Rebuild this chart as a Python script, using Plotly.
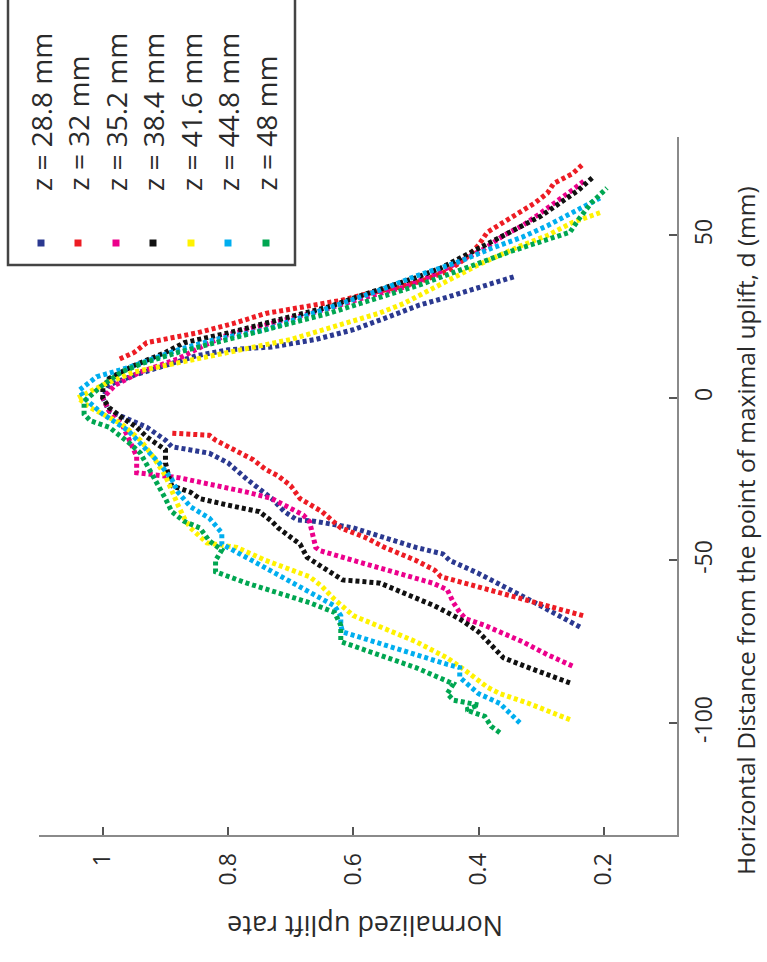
import plotly.graph_objects as go

W, H = 767, 962
L, R, T, B = 39, 677, 137, 835  # plot area pixel edges

def px(x):
    return (x - L) / (R - L)

def py(y):
    return (B - y) / (B - T)

series_names = ["z = 28.8 mm", "z = 32 mm", "z = 35.2 mm", "z = 38.4 mm",
                "z = 41.6 mm", "z = 44.8 mm", "z = 48 mm"]
series_colors = ["#2b3990", "#ed1c24", "#ec008c", "#111111",
                 "#fff200", "#00aeef", "#00a651"]

d_288 = [-70.5, -66, -62, -58, -54, -50, -48, -46, -43, -40, -38, -37.5, -35, -31, -28, -25, -20, -17, -16, -15, -13, -9, -4, 0, 4, 7, 10, 13, 14.8, 15.7, 18, 21, 24.5, 28.6, 31, 34.8, 37.5]
r_288 = [0.238, 0.28, 0.32, 0.36, 0.40, 0.446, 0.457, 0.5, 0.55, 0.6, 0.66, 0.69, 0.71, 0.73, 0.75, 0.77, 0.8, 0.83, 0.86, 0.89, 0.9, 0.93, 0.99, 1.0, 0.99, 0.95, 0.9, 0.85, 0.8, 0.73, 0.66, 0.6, 0.55, 0.494, 0.45, 0.386, 0.34]

d_32 = [-67, -64, -61, -58, -55, -53, -50, -46, -43, -40, -35, -31, -27, -24, -22, -19, -16, -13, -11.5, -11, -10.8, None, 12, 14, 17, 18, 20, 23, 26, 28, 30, 32, 34, 36, 39, 43, 47, 51, 54, 57, 60, 63, 66, 69, 72]
r_32 = [0.233, 0.29, 0.35, 0.4, 0.46, 0.47, 0.5, 0.55, 0.58, 0.62, 0.65, 0.685, 0.70, 0.72, 0.74, 0.76, 0.79, 0.82, 0.83, 0.86, 0.893, None, 0.973, 0.95, 0.93, 0.9, 0.85, 0.79, 0.74, 0.68, 0.62, 0.58, 0.53, 0.49, 0.45, 0.42, 0.40, 0.386, 0.36, 0.334, 0.31, 0.29, 0.28, 0.25, 0.233]

d_352 = [-82.5, -79, -75, -72, -70, -68, -66, -63, -59, -57, -55, -53, -50, -47, -46, -42, -38, -36, -33, -31, -29, -27, -24.6, -23, -20, -18, -12, -8, -4, 0, 4, 8, 12, 16, 19.5, 23, 27, 31, 34, 38, 42, 46, 50, 53, 57, 61, 64, 67]
r_352 = [0.25, 0.29, 0.33, 0.366, 0.39, 0.42, 0.43, 0.44, 0.45, 0.473, 0.51, 0.55, 0.6, 0.653, 0.66, 0.665, 0.67, 0.68, 0.71, 0.73, 0.77, 0.82, 0.877, 0.946, 0.946, 0.946, 0.96, 0.97, 0.99, 1.0, 0.98, 0.94, 0.88, 0.84, 0.8, 0.73, 0.65, 0.58, 0.52, 0.47, 0.43, 0.39, 0.36, 0.33, 0.3, 0.27, 0.25, 0.23]

d_384 = [-87.7, -86, -83, -80, -76, -72, -68, -64, -60, -57, -56.5, -56, -52, -49, -45, -43, -40, -38, -35, -33, -31, -29, -27, -24, -20, -16, -12, -9, -6, -3, 0, 3, 6, 10, 14, 17, 20, 24, 28, 32, 35, 37, 40, 44, 48, 52.6, 56, 60, 64, 68]
r_384 = [0.254, 0.28, 0.32, 0.36, 0.38, 0.40, 0.43, 0.47, 0.52, 0.557, 0.585, 0.617, 0.65, 0.674, 0.685, 0.70, 0.72, 0.73, 0.75, 0.8, 0.845, 0.86, 0.89, 0.895, 0.9, 0.9, 0.93, 0.946, 0.97, 0.99, 1.0, 1.0, 0.99, 0.95, 0.9, 0.87, 0.8, 0.72, 0.64, 0.58, 0.53, 0.5, 0.46, 0.42, 0.38, 0.335, 0.3, 0.27, 0.24, 0.217]

d_416 = [-99, -97, -94, -91, -89, -84, -80, -75, -71, -67, -62, -58, -55, -50, -46, -44.6, -40, -37, -33, -28, -24, -18, -13, -8, -3, 0, 4, 8, 12, 15, 18, 22, 26, 29, 31.7, 36, 41, 46.7, 50, 54, 57]
r_416 = [0.254, 0.28, 0.32, 0.366, 0.386, 0.42, 0.45, 0.5, 0.55, 0.6, 0.63, 0.65, 0.67, 0.74, 0.786, 0.834, 0.86, 0.87, 0.88, 0.89, 0.9, 0.92, 0.94, 0.97, 1.02, 1.04, 1.0, 0.95, 0.85, 0.77, 0.7, 0.63, 0.56, 0.52, 0.494, 0.45, 0.4, 0.334, 0.29, 0.25, 0.206]

d_448 = [-100, -97, -94, -91, -86, -83, -82, -79, -75, -72, -70, -67, -64, -60, -55, -50, -45, -41.5, -37, -33.5, -29, -25, -20, -14, -10, -5, 0, 2.5, 6.5, 9.5, 15, 18, 21, 25, 29, 33, 37.5, 42, 46, 49.5, 53, 57, 61.5]
r_448 = [0.334, 0.35, 0.366, 0.4, 0.43, 0.43, 0.45, 0.5, 0.57, 0.617, 0.62, 0.62, 0.63, 0.667, 0.715, 0.762, 0.81, 0.81, 0.83, 0.86, 0.88, 0.89, 0.91, 0.94, 0.96, 1.0, 1.03, 1.037, 1.01, 0.957, 0.877, 0.82, 0.74, 0.68, 0.62, 0.56, 0.5, 0.43, 0.38, 0.33, 0.29, 0.25, 0.206]

d_48 = [-103, -101, -98, -96, -94.5, -93, -91, -88, -83, -79, -75, -70, -66, -63, -60, -57, -53.5, -50, -46.8, -44, -40, -38, -35, -31, -24, -17, -14, -9, -7, -5, -1, 4, 8, 10.7, 14, 17, 20, 23, 26, 29, 32, 34.8, 40, 45, 51, 55, 60, 64.6]
r_48 = [0.366, 0.38, 0.39, 0.42, 0.40, 0.44, 0.45, 0.44, 0.5, 0.56, 0.62, 0.62, 0.63, 0.67, 0.72, 0.77, 0.82, 0.82, 0.81, 0.83, 0.845, 0.87, 0.89, 0.9, 0.92, 0.94, 0.957, 0.99, 1.02, 1.03, 1.03, 1.0, 0.97, 0.936, 0.88, 0.82, 0.76, 0.7, 0.64, 0.59, 0.54, 0.494, 0.42, 0.35, 0.254, 0.24, 0.22, 0.195]

series_d = [d_288, d_32, d_352, d_384, d_416, d_448, d_48]
series_r = [r_288, r_32, r_352, r_384, r_416, r_448, r_48]

rate_ticks = [1, 0.8, 0.6, 0.4, 0.2]
rate_ticktext = ["1", "0.8", "0.6", "0.4", "0.2"]
d_ticks = [-100, -50, 0, 50]
d_ticktext = ["-100", "-50", "0", "50"]

FONT = "Open Sans"
TXT = "#2a2a2a"

fig = go.Figure()
for name, col, dd, rr in zip(series_names, series_colors, series_d, series_r):
    fig.add_trace(go.Scatter(
        x=rr, y=dd, mode="lines", name=name, showlegend=False,
        line=dict(color=col, width=5, dash="4px,3px"),
    ))

ax_style = dict(showgrid=False, zeroline=False, showline=True, linecolor="#8a8a8a",
                linewidth=2, ticks="inside", ticklen=8, tickwidth=1.5, tickcolor="#555",
                tickfont=dict(family=FONT, size=23, color=TXT))

fig.update_layout(
    width=W, height=H,
    margin=dict(l=L, r=W - R, t=T, b=H - B, pad=0),
    paper_bgcolor="white", plot_bgcolor="white",
    xaxis=dict(range=[1.102, 0.083], tickvals=rate_ticks, ticktext=rate_ticktext,
               tickangle=-90, side="bottom", ticklabelstandoff=7, **ax_style),
    yaxis=dict(range=[-134.5, 80.3], tickvals=d_ticks, ticktext=d_ticktext,
               tickangle=-90, side="right", ticklabelstandoff=5, **ax_style),
)

# axis titles (figure is rotated 90 degrees counter-clockwise)
fig.add_annotation(text="Normalized uplift rate", xref="paper", yref="paper",
                   x=px(365), y=py(927), textangle=180, showarrow=False,
                   xanchor="center", yanchor="middle",
                   font=dict(family=FONT, size=27, color=TXT))
fig.add_annotation(text="Horizontal Distance from the point of maximal uplift, d (mm)",
                   xref="paper", yref="paper", x=px(745), y=py(530), textangle=-90,
                   showarrow=False, xanchor="center", yanchor="middle",
                   font=dict(family=FONT, size=24.5, color=TXT))

# legend (rotated)
fig.add_shape(type="rect", xref="paper", yref="paper", x0=px(8), x1=px(295),
              y0=py(265), y1=py(-20), line=dict(color="#444", width=2.5),
              fillcolor="white", layer="above")
leg_x = [41, 78, 116, 153, 191, 228, 266]
for i, (name, col) in enumerate(zip(series_names, series_colors)):
    cx = leg_x[i]
    fig.add_shape(type="rect", xref="paper", yref="paper",
                  x0=px(cx - 3.5), x1=px(cx + 3.5), y0=py(243 + 3.5), y1=py(243 - 3.5),
                  fillcolor=col, line=dict(color=col, width=0), layer="above")
    fig.add_annotation(text=name, xref="paper", yref="paper", x=px(cx), y=py(193),
                       textangle=-90, showarrow=False, xanchor="center", yanchor="bottom",
                       font=dict(family=FONT, size=28, color=TXT))

fig.write_html("out.html")
